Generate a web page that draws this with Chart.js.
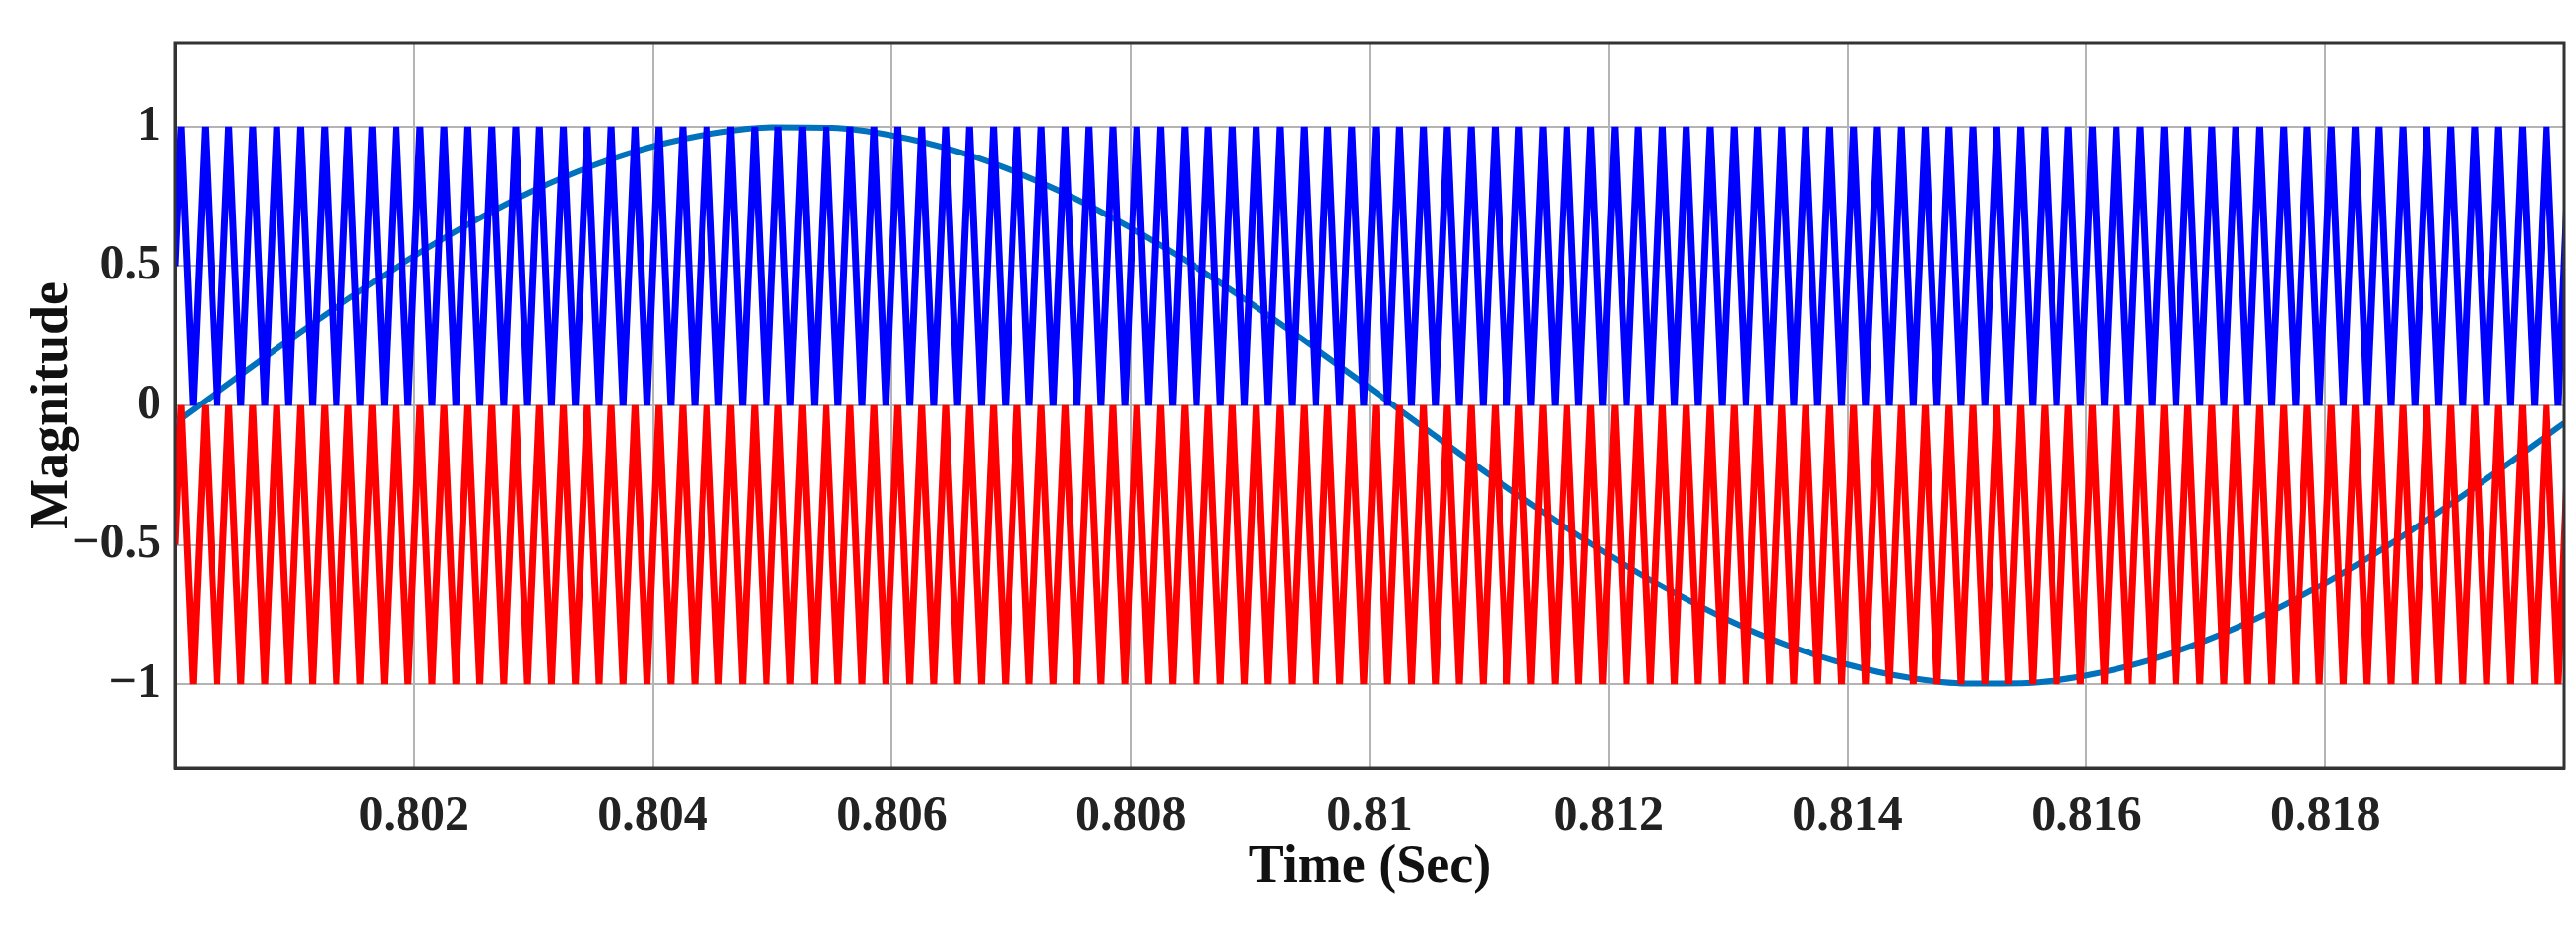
<!DOCTYPE html>
<html>
<head>
<meta charset="utf-8">
<script src="https://cdn.jsdelivr.net/npm/chart.js@4"></script>
<style>
  html, body { margin: 0; padding: 0; background: #fff; }
  #wrap { width: 2618px; height: 942px; }
</style>
</head>
<body>
<div id="wrap"><canvas id="chartPwm"></canvas></div>
<script>
// x ticks shown on the time axis
const xTickValues = [0.802, 0.804, 0.806, 0.808, 0.81, 0.812, 0.814, 0.816, 0.818];
const yTickValues = [-1, -0.5, 0, 0.5, 1];

const sineStart = 0.8;
const sineStep = 0.0005;
const sineValues = [-0.063, 0.094, 0.249, 0.397, 0.536, 0.661, 0.771, 0.861, 0.930, 0.976,
  0.998, 0.996, 0.969, 0.918, 0.844, 0.750, 0.637, 0.509, 0.368, 0.218,
  0.063, -0.094, -0.249, -0.397, -0.536, -0.661, -0.771, -0.861, -0.930, -0.976,
  -0.998, -0.996, -0.969, -0.918, -0.844, -0.750, -0.637, -0.509, -0.368, -0.218, -0.063];

// carriers: triangle waves, one peak every 0.2 ms, first peak at 0.80005 s
const carrierPeriod = 0.0002;
const carrierFirstPeak = 0.80005;
const upperLevels = [0, 1];   // [trough, peak]
const lowerLevels = [-1, 0];

function carrier(levels) {
  const pts = [{x: 0.8, y: (levels[0] + levels[1]) / 2}];
  for (let t = carrierFirstPeak; t < 0.82 + carrierPeriod; t += carrierPeriod) {
    pts.push({x: t, y: levels[1]});
    pts.push({x: t + carrierPeriod / 2, y: levels[0]});
  }
  return pts;
}

const sinePts = sineValues.map((v, i) => ({x: sineStart + i * sineStep, y: v}));

const tickFont = {family: '"Liberation Serif", "Times New Roman", serif', size: 50, weight: 'bold'};
const titleFont = {family: '"Liberation Serif", "Times New Roman", serif', size: 54, weight: 'bold'};

new Chart(document.getElementById('chartPwm'), {
  type: 'line',
  data: {
    datasets: [
      {data: carrier(upperLevels), borderColor: '#0000ff', borderWidth: 7, pointRadius: 0, tension: 0},
      {data: carrier(lowerLevels), borderColor: '#ff0000', borderWidth: 7, pointRadius: 0, tension: 0},
      {data: sinePts, borderColor: '#0072bd', borderWidth: 6, pointRadius: 0, cubicInterpolationMode: 'monotone'}
    ]
  },
  options: {
    responsive: true,
    maintainAspectRatio: false,
    animation: false,
    parsing: false,
    layout: {padding: {top: 37, right: 12, left: 18, bottom: 24}},
    plugins: {legend: {display: false}, tooltip: {enabled: false}},
    scales: {
      x: {
        type: 'linear', min: 0.8, max: 0.82,
        afterBuildTicks: s => { s.ticks = xTickValues.map(v => ({value: v})); },
        afterFit: s => { s.height = 138; },
        ticks: {font: tickFont, color: '#222', padding: 20, callback: v => String(+v.toFixed(3))},
        grid: {color: '#b4b4b4', lineWidth: 2, drawTicks: false},
        border: {color: '#333', width: 3},
        title: {display: true, text: 'Time (Sec)', font: titleFont, color: '#111', padding: {top: 0}}
      },
      y: {
        type: 'linear', min: -1.3, max: 1.3,
        afterBuildTicks: s => { s.ticks = yTickValues.map(v => ({value: v})); },
        afterFit: s => { s.width = 160; },
        ticks: {font: tickFont, color: '#222', padding: 14, callback: v => v < 0 ? '\u2212' + Math.abs(v) : String(v)},
        grid: {color: '#b4b4b4', lineWidth: 2, drawTicks: false},
        border: {color: '#333', width: 3},
        title: {display: true, text: 'Magnitude', font: titleFont, color: '#111', padding: {bottom: 0}}
      }
    }
  },
  plugins: [{
    id: 'frame',
    afterDraw(chart) {
      const {ctx, chartArea: a} = chart;
      ctx.save();
      ctx.strokeStyle = '#333';
      ctx.lineWidth = 3;
      ctx.strokeRect(a.left, a.top, a.right - a.left, a.bottom - a.top);
      ctx.restore();
    }
  }]
});
</script>
</body>
</html>
